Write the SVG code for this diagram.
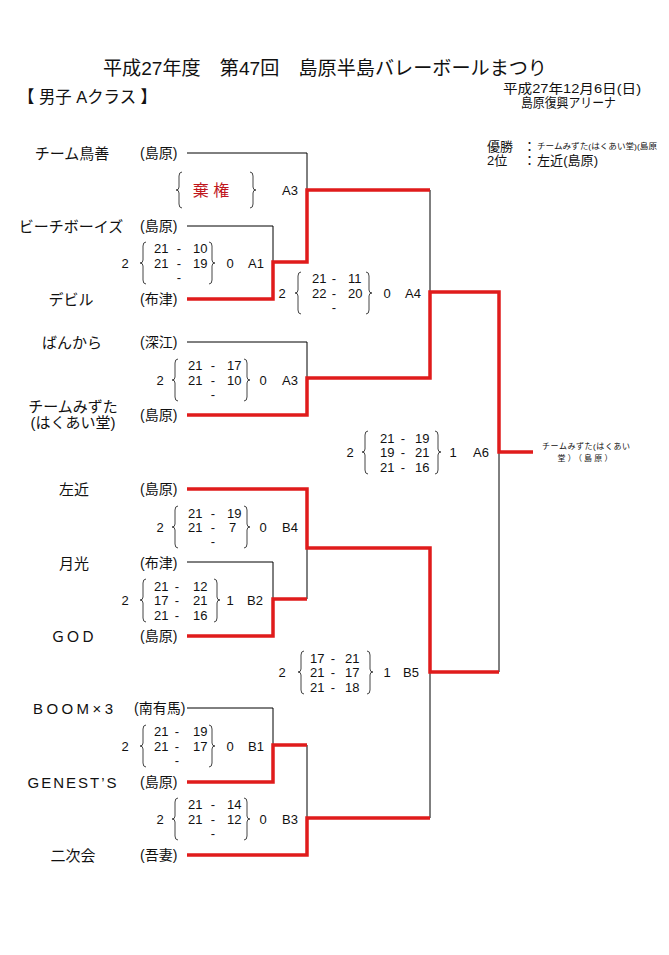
<svg xmlns="http://www.w3.org/2000/svg" width="669" height="955" viewBox="0 0 669 955">
<style>
text{font-family:"Liberation Sans","Noto Sans CJK JP",sans-serif;fill:#111;dominant-baseline:central}
.nm{font-size:15px;text-anchor:middle}
.rg{font-size:14px}
.sc{font-size:13px}
.mid{text-anchor:middle}
.br{fill:none;stroke:#444;stroke-width:1}
.bk{fill:none;stroke:#000;stroke-width:1}
.rd{fill:none;stroke:#e01b1b;stroke-width:3.5;stroke-linejoin:miter;stroke-linecap:butt}
</style>
<rect width="669" height="955" fill="#fff"/>
<g id="header">
<text x="325" y="68" font-size="19" text-anchor="middle" textLength="444" lengthAdjust="spacingAndGlyphs">平成27年度　第47回　島原半島バレーボールまつり</text>
<text x="18" y="97" font-size="17" textLength="139" lengthAdjust="spacingAndGlyphs">【 男子 Aクラス 】</text>
<text x="503" y="88" font-size="13" textLength="138" lengthAdjust="spacingAndGlyphs">平成27年12月6日(日)</text>
<text x="521" y="102" font-size="13" textLength="95" lengthAdjust="spacingAndGlyphs">島原復興アリーナ</text>
</g>
<g id="result">
<text x="487" y="146" font-size="13">優勝</text>
<text x="523" y="146" font-size="13">：</text>
<text x="537" y="146" font-size="7.5" textLength="120" lengthAdjust="spacingAndGlyphs">チームみずた(はくあい堂)(島原</text>
<text x="487" y="160" font-size="13">2位</text>
<text x="523" y="160" font-size="13">：</text>
<text x="537" y="160" font-size="13" textLength="61" lengthAdjust="spacingAndGlyphs">左近(島原)</text>
</g>
<g id="connectors">
<path class="bk" d="M187,153 H307 V190 M187,226 H273 V262 M187,342 H307 V378 M430,190 V292 M187,562 H273 V599 M307,599 V548 M187,708 H273 V745 M307,745 V818 M430,818 V672 M499,452 V672"/>
<path class="rd" d="M187,299 H273 V262 H307 V190 H430"/>
<path class="rd" d="M187,415 H307 V378 H430 V292 H499 V452 H533"/>
<path class="rd" d="M187,489 H307 V548 H430 V672 H499"/>
<path class="rd" d="M187,636 H273 V599 H307"/>
<path class="rd" d="M187,782 H273 V745 H307"/>
<path class="rd" d="M187,855 H307 V818 H430"/>
</g>
<g id="team-torizen"><text class="nm" x="72" y="153">チーム鳥善</text><text class="rg" x="140" y="153">(島原)</text></g>
<g id="team-beachboys"><text class="nm" x="71" y="226">ビーチボーイズ</text><text class="rg" x="140" y="226">(島原)</text></g>
<g id="team-devil"><text class="nm" x="71" y="299">デビル</text><text class="rg" x="140" y="299">(布津)</text></g>
<g id="team-bankara"><text class="nm" x="72" y="342">ばんから</text><text class="rg" x="140" y="342">(深江)</text></g>
<g id="team-mizuta"><text class="nm" x="73" y="406" font-size="12">チームみずた</text><text class="nm" x="73" y="422" font-size="12">(はくあい堂)</text><text class="rg" x="140" y="415">(島原)</text></g>
<g id="team-sakon"><text class="nm" x="74" y="489">左近</text><text class="rg" x="140" y="489">(島原)</text></g>
<g id="team-gekko"><text class="nm" x="74" y="563">月光</text><text class="rg" x="140" y="563">(布津)</text></g>
<g id="team-god"><text class="nm" x="73" y="636">ＧＯＤ</text><text class="rg" x="140" y="636">(島原)</text></g>
<g id="team-boom"><text class="nm" x="73" y="708" textLength="80" lengthAdjust="spacing">BOOM×3</text><text class="rg" x="134" y="708">(南有馬)</text></g>
<g id="team-genests"><text class="nm" x="72" y="782" textLength="89" lengthAdjust="spacing">GENEST’S</text><text class="rg" x="140" y="782">(島原)</text></g>
<g id="team-nijikai"><text class="nm" x="73" y="855">二次会</text><text class="rg" x="140" y="855">(吾妻)</text></g>

<g id="match-A3-top">
<path class="br" d="M182,172 Q179,172 179,176 L179,187 Q179,190 176,190 Q179,190 179,193 L179,204 Q179,208 182,208"/>
<path class="br" d="M250,172 Q253,172 253,176 L253,187 Q253,190 256,190 Q253,190 253,193 L253,204 Q253,208 250,208"/>
<text x="211" y="190" font-size="16" text-anchor="middle" style="fill:#c0161c">棄 権</text>
<text class="sc" x="282" y="190">A3</text>
</g>
<g id="match-A1">
<text class="sc mid" x="125" y="263">2</text>
<path class="br" d="M146,242 Q143,242 143,246 L143,260 Q143,263 140,263 Q143,263 143,266 L143,280 Q143,284 146,284"/>
<text class="sc" x="154" y="248">21</text><text class="sc mid" x="179" y="248">-</text><text class="sc" x="193" y="248">10</text>
<text class="sc" x="154" y="263">21</text><text class="sc mid" x="179" y="263">-</text><text class="sc" x="193" y="263">19</text>
<text class="sc mid" x="179" y="277">-</text>
<path class="br" d="M209,242 Q212,242 212,246 L212,260 Q212,263 215,263 Q212,263 212,266 L212,280 Q212,284 209,284"/>
<text class="sc mid" x="230" y="263">0</text>
<text class="sc" x="248" y="263">A1</text>
</g>
<g id="match-A4">
<text class="sc mid" x="282" y="293">2</text>
<path class="br" d="M301,272 Q298,272 298,276 L298,290 Q298,293 295,293 Q298,293 298,296 L298,310 Q298,314 301,314"/>
<text class="sc" x="312" y="278">21</text><text class="sc mid" x="334" y="278">-</text><text class="sc" x="348" y="278">11</text>
<text class="sc" x="312" y="293">22</text><text class="sc mid" x="334" y="293">-</text><text class="sc" x="348" y="293">20</text>
<text class="sc mid" x="334" y="307">-</text>
<path class="br" d="M366,272 Q369,272 369,276 L369,290 Q369,293 372,293 Q369,293 369,296 L369,310 Q369,314 366,314"/>
<text class="sc mid" x="387" y="293">0</text>
<text class="sc" x="405" y="293">A4</text>
</g>
<g id="match-A3-low">
<text class="sc mid" x="160" y="380">2</text>
<path class="br" d="M178,359 Q175,359 175,363 L175,377 Q175,380 172,380 Q175,380 175,383 L175,397 Q175,401 178,401"/>
<text class="sc" x="188" y="365">21</text><text class="sc mid" x="213" y="365">-</text><text class="sc" x="227" y="365">17</text>
<text class="sc" x="188" y="380">21</text><text class="sc mid" x="213" y="380">-</text><text class="sc" x="227" y="380">10</text>
<text class="sc mid" x="213" y="394">-</text>
<path class="br" d="M244,359 Q247,359 247,363 L247,377 Q247,380 250,380 Q247,380 247,383 L247,397 Q247,401 244,401"/>
<text class="sc mid" x="263" y="380">0</text>
<text class="sc" x="282" y="380">A3</text>
</g>
<g id="match-A6">
<text class="sc mid" x="350" y="452">2</text>
<path class="br" d="M368,431 Q365,431 365,435 L365,449 Q365,452 362,452 Q365,452 365,455 L365,470 Q365,474 368,474"/>
<text class="sc" x="380" y="438">21</text><text class="sc mid" x="403" y="438">-</text><text class="sc" x="415" y="438">19</text>
<text class="sc" x="380" y="452">19</text><text class="sc mid" x="403" y="452">-</text><text class="sc" x="415" y="452">21</text>
<text class="sc" x="380" y="467">21</text><text class="sc mid" x="403" y="467">-</text><text class="sc" x="415" y="467">16</text>
<path class="br" d="M435,431 Q438,431 438,435 L438,449 Q438,452 441,452 Q438,452 438,455 L438,470 Q438,474 435,474"/>
<text class="sc mid" x="453" y="452">1</text>
<text class="sc" x="473" y="452">A6</text>
</g>
<g id="winner">
<text x="586" y="446" font-size="8" text-anchor="middle" textLength="88" lengthAdjust="spacing">チームみずた(はくあい</text>
<text x="585" y="458" font-size="8" text-anchor="middle" textLength="55" lengthAdjust="spacing">堂）（島原）</text>
</g>
<g id="match-B4">
<text class="sc mid" x="160" y="527">2</text>
<path class="br" d="M178,506 Q175,506 175,510 L175,524 Q175,527 172,527 Q175,527 175,530 L175,544 Q175,548 178,548"/>
<text class="sc" x="188" y="513">21</text><text class="sc mid" x="213" y="513">-</text><text class="sc" x="227" y="513">19</text>
<text class="sc" x="188" y="527">21</text><text class="sc mid" x="213" y="527">-</text><text class="sc" x="229" y="527">7</text>
<text class="sc mid" x="213" y="541">-</text>
<path class="br" d="M244,506 Q247,506 247,510 L247,524 Q247,527 250,527 Q247,527 247,530 L247,544 Q247,548 244,548"/>
<text class="sc mid" x="263" y="527">0</text>
<text class="sc" x="282" y="527">B4</text>
</g>
<g id="match-B2">
<text class="sc mid" x="125" y="600">2</text>
<path class="br" d="M146,579 Q143,579 143,583 L143,597 Q143,600 140,600 Q143,600 143,603 L143,618 Q143,622 146,622"/>
<text class="sc" x="154" y="586">21</text><text class="sc mid" x="177" y="586">-</text><text class="sc" x="193" y="586">12</text>
<text class="sc" x="154" y="600">17</text><text class="sc mid" x="177" y="600">-</text><text class="sc" x="193" y="600">21</text>
<text class="sc" x="154" y="615">21</text><text class="sc mid" x="177" y="615">-</text><text class="sc" x="193" y="615">16</text>
<path class="br" d="M214,579 Q217,579 217,583 L217,597 Q217,600 220,600 Q217,600 217,603 L217,618 Q217,622 214,622"/>
<text class="sc mid" x="230" y="600">1</text>
<text class="sc" x="247" y="600">B2</text>
</g>
<g id="match-B5">
<text class="sc mid" x="282" y="672">2</text>
<path class="br" d="M304,651 Q301,651 301,655 L301,669 Q301,672 298,672 Q301,672 301,675 L301,690 Q301,694 304,694"/>
<text class="sc" x="310" y="658">17</text><text class="sc mid" x="333" y="658">-</text><text class="sc" x="345" y="658">21</text>
<text class="sc" x="310" y="672">21</text><text class="sc mid" x="333" y="672">-</text><text class="sc" x="345" y="672">17</text>
<text class="sc" x="310" y="687">21</text><text class="sc mid" x="333" y="687">-</text><text class="sc" x="345" y="687">18</text>
<path class="br" d="M367,651 Q370,651 370,655 L370,669 Q370,672 373,672 Q370,672 370,675 L370,690 Q370,694 367,694"/>
<text class="sc mid" x="387" y="672">1</text>
<text class="sc" x="403" y="672">B5</text>
</g>
<g id="match-B1">
<text class="sc mid" x="125" y="746">2</text>
<path class="br" d="M146,725 Q143,725 143,729 L143,743 Q143,746 140,746 Q143,746 143,749 L143,763 Q143,767 146,767"/>
<text class="sc" x="154" y="731">21</text><text class="sc mid" x="177" y="731">-</text><text class="sc" x="193" y="731">19</text>
<text class="sc" x="154" y="746">21</text><text class="sc mid" x="177" y="746">-</text><text class="sc" x="193" y="746">17</text>
<text class="sc mid" x="177" y="760">-</text>
<path class="br" d="M209,725 Q212,725 212,729 L212,743 Q212,746 215,746 Q212,746 212,749 L212,763 Q212,767 209,767"/>
<text class="sc mid" x="230" y="746">0</text>
<text class="sc" x="248" y="746">B1</text>
</g>
<g id="match-B3">
<text class="sc mid" x="160" y="819">2</text>
<path class="br" d="M178,798 Q175,798 175,802 L175,816 Q175,819 172,819 Q175,819 175,822 L175,836 Q175,840 178,840"/>
<text class="sc" x="188" y="804">21</text><text class="sc mid" x="213" y="804">-</text><text class="sc" x="227" y="804">14</text>
<text class="sc" x="188" y="819">21</text><text class="sc mid" x="213" y="819">-</text><text class="sc" x="227" y="819">12</text>
<text class="sc mid" x="213" y="833">-</text>
<path class="br" d="M244,798 Q247,798 247,802 L247,816 Q247,819 250,819 Q247,819 247,822 L247,836 Q247,840 244,840"/>
<text class="sc mid" x="263" y="819">0</text>
<text class="sc" x="282" y="819">B3</text>
</g>
</svg>
